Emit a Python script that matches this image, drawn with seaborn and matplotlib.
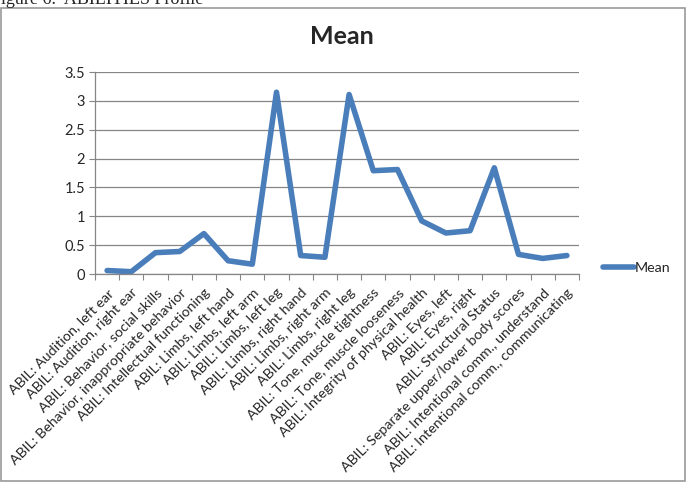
import matplotlib
matplotlib.use("Agg")
import matplotlib.pyplot as plt
from matplotlib.patches import Rectangle
from matplotlib.ticker import FuncFormatter
import seaborn as sns
import pandas as pd
import numpy as np

categories = [
    "ABIL: Audition, left ear",
    "ABIL: Audition, right ear",
    "ABIL: Behavior, social skills",
    "ABIL: Behavior, inappropriate behavior",
    "ABIL: Intellectual functioning",
    "ABIL: Limbs, left hand",
    "ABIL: Limbs, left arm",
    "ABIL: Limbs, left leg",
    "ABIL: Limbs, right hand",
    "ABIL: Limbs, right arm",
    "ABIL: Limbs, right leg",
    "ABIL: Tone, muscle tightness",
    "ABIL: Tone, muscle looseness",
    "ABIL: Integrity of physical health",
    "ABIL: Eyes, left",
    "ABIL: Eyes, right",
    "ABIL: Structural Status",
    "ABIL: Separate upper/lower body scores",
    "ABIL: Intentional comm., understand",
    "ABIL: Intentional comm., communicating",
]
mean_values = [0.06, 0.04, 0.37, 0.39, 0.70, 0.23, 0.17, 3.15, 0.32, 0.29,
               3.11, 1.79, 1.81, 0.92, 0.71, 0.75, 1.84, 0.34, 0.27, 0.32]
yticks = [0, 0.5, 1, 1.5, 2, 2.5, 3, 3.5]

sns.set_style("white")
plt.rcParams["font.family"] = ["Lato", "DejaVu Sans"]

W, H = 687, 483
fig = plt.figure(figsize=(W / 100, H / 100), dpi=100)
ax = fig.add_axes([95 / W, 1 - 274 / H, (579 - 95) / W, (274 - 72) / H])

df = pd.DataFrame({"pos": np.arange(len(categories)), "Mean": mean_values, "series": "Mean"})
line_color = "#4A7EBB"
sns.lineplot(data=df, x="pos", y="Mean", hue="series", palette=[line_color],
             ax=ax, linewidth=4.0, legend=True)
for ln in ax.lines:
    ln.set_solid_capstyle("round")
    ln.set_solid_joinstyle("round")

ax.set_xlim(-0.5, len(categories) - 0.5)
ax.set_ylim(0, 3.5)
ax.set_yticks(yticks)
ax.yaxis.set_major_formatter(FuncFormatter(lambda v, p: f"{v:g}"))
ax.set_xticks(np.arange(len(categories)))
ax.set_xticklabels(categories, rotation=45, ha="right", rotation_mode="anchor", fontsize=10.3)
ax.set_xticks(np.arange(len(categories) + 1) - 0.5, minor=True)
ax.tick_params(axis="x", which="major", length=0, pad=9)
ax.tick_params(axis="x", which="minor", length=4, color="#868686", width=0.8, direction="out")
ax.tick_params(axis="y", which="major", length=4, color="#868686", width=0.8, direction="out",
               labelsize=10.5, pad=3)
ax.xaxis.set_tick_params(which="minor", bottom=True)
ax.yaxis.set_tick_params(left=True)
ax.set_xlabel("")
ax.set_ylabel("")
ax.grid(axis="y", color="#868686", linewidth=0.9)
ax.set_axisbelow(True)
for s in ["top", "right"]:
    ax.spines[s].set_visible(False)
for s in ["left", "bottom"]:
    ax.spines[s].set_color("#868686")
    ax.spines[s].set_linewidth(0.9)

ax.get_legend().remove()
handles, labels = ax.get_legend_handles_labels()
leg = fig.legend(handles, ["Mean"], loc="center left",
                 bbox_to_anchor=(590 / W, 1 - 268 / H), frameon=False,
                 fontsize=10.3, handlelength=2.2, handletextpad=0.05)
for h in leg.legend_handles:
    h.set_linewidth(4.0)
    h.set_solid_capstyle("round")

fig.text(342 / W, 1 - 37 / H, "Mean", ha="center", va="center",
         fontsize=18, fontweight="bold")

fig.text(-9 / W, 1 - 4 / H, "Figure 6.  ABILITIES Profile", ha="left", va="baseline",
         fontsize=13, family=["Liberation Serif", "DejaVu Serif"])

fig.patches.append(Rectangle((0.5 / W, 1 - 481 / H), 684.5 / W, (481 - 8) / H,
                             transform=fig.transFigure, fill=False,
                             edgecolor="#9a9a9a", linewidth=1.2))

fig.savefig("out.png", dpi=100, facecolor="white")
